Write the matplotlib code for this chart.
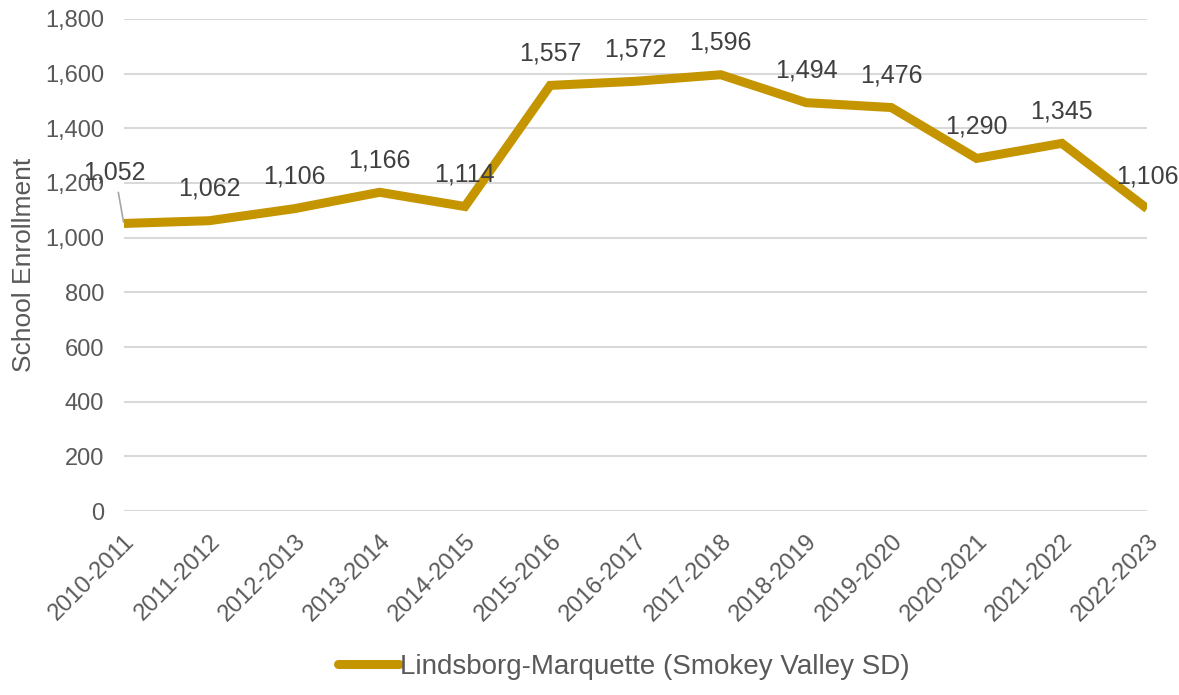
import matplotlib.pyplot as plt
from matplotlib.ticker import FuncFormatter

years = ['2010-2011', '2011-2012', '2012-2013', '2013-2014', '2014-2015', '2015-2016',
         '2016-2017', '2017-2018', '2018-2019', '2019-2020', '2020-2021', '2021-2022',
         '2022-2023']
enrollment = [1052, 1062, 1106, 1166, 1114, 1557, 1572, 1596, 1494, 1476, 1290, 1345, 1106]
series_name = 'Lindsborg-Marquette (Smokey Valley SD)'

line_color = '#C59500'
text_color = '#595959'

plt.rcParams['font.family'] = ['Liberation Sans', 'DejaVu Sans']

fig = plt.figure(figsize=(11.79, 6.95), dpi=100)
ax = fig.add_axes([0.105, 0.2647, 0.868, 0.708])

x = list(range(len(years)))
ax.plot(x, enrollment, color=line_color, lw=6.5, solid_joinstyle='miter',
        solid_capstyle='butt', label=series_name, zorder=3)

# data labels
for i, v in enumerate(enrollment):
    if i == 0:
        ax.annotate(f'{v:,}', xy=(i, v), xytext=(-6.5, 37), textcoords='offset points',
                    ha='center', va='center', fontsize=18, color='#404040',
                    arrowprops=dict(arrowstyle='-', color='#A6A6A6', lw=1.2,
                                    shrinkA=4, shrinkB=1))
    else:
        ax.annotate(f'{v:,}', xy=(i, v), xytext=(0, 23), textcoords='offset points',
                    ha='center', va='center', fontsize=18, color='#404040')

ax.set_xlim(0, len(years) - 1)
ax.set_ylim(0, 1800)
ax.set_yticks(range(0, 1801, 200))
ax.yaxis.set_major_formatter(FuncFormatter(lambda v, p: f'{int(v):,}'))
ax.set_xticks(x)
ax.set_xticklabels(years, rotation=45, ha='right', rotation_mode='anchor')
ax.tick_params(axis='both', length=0, labelsize=17, labelcolor=text_color)
ax.tick_params(axis='y', pad=14)
ax.tick_params(axis='x', pad=14)

ax.grid(axis='y', color='#D9D9D9', lw=1.5)
ax.set_axisbelow(True)
for s in ax.spines.values():
    s.set_visible(False)

ax.set_ylabel('School Enrollment', fontsize=19, color=text_color, labelpad=7)

leg = fig.legend(loc='center', bbox_to_anchor=(0.529, 0.04), frameon=False,
                 fontsize=20, handlelength=2.2, handletextpad=0.05)
for t in leg.get_texts():
    t.set_color(text_color)
for h in leg.get_lines():
    h.set_solid_capstyle('round')

fig.savefig('out.png', dpi=100)
